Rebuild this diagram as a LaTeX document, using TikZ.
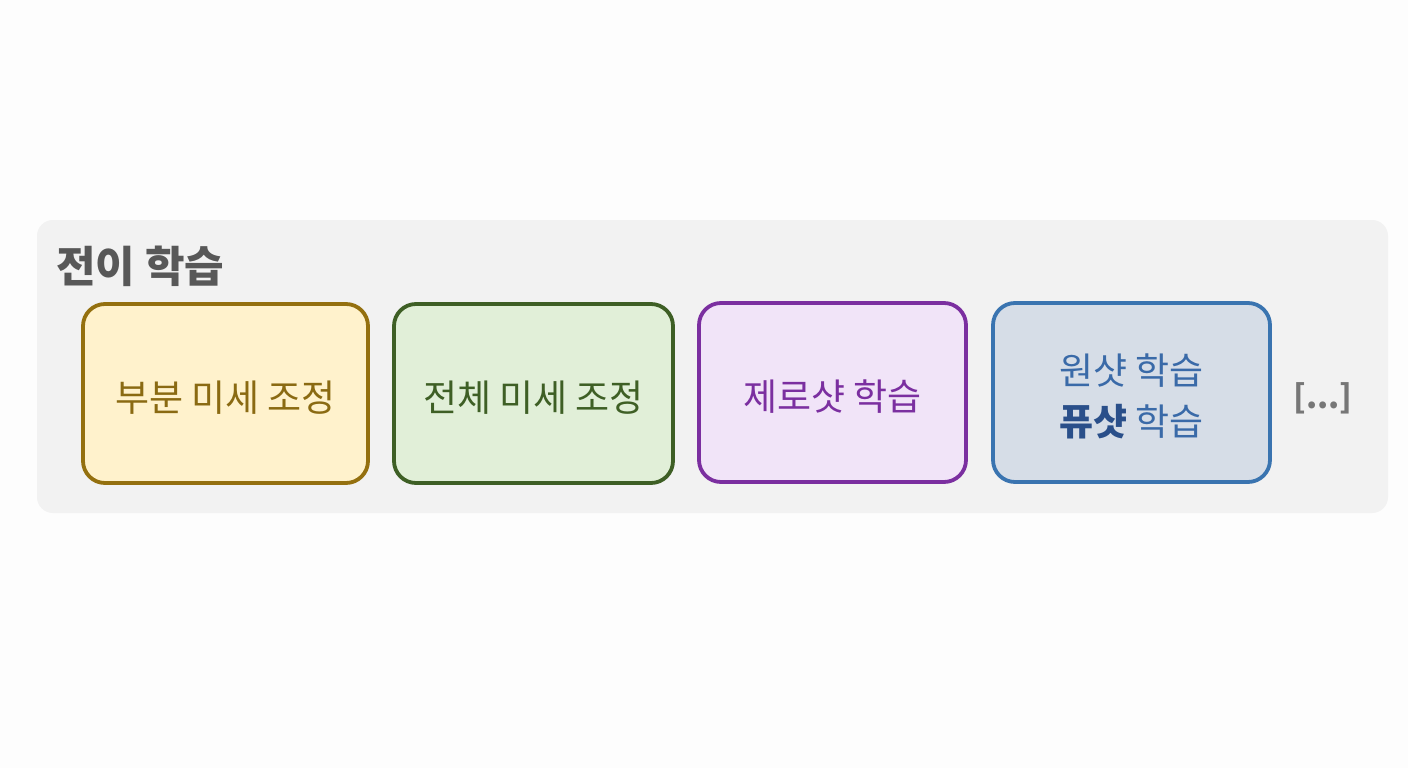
\documentclass[tikz,border=0pt]{standalone}
\usepackage{fontspec}
\setmainfont{Noto Sans CJK KR}
\newfontfamily\kr{Noto Sans CJK KR}
\definecolor{bgc}{HTML}{FDFDFD}
\definecolor{panelc}{HTML}{F2F2F2}
\definecolor{titlec}{HTML}{585858}
\definecolor{yfill}{HTML}{FFF2CC}
\definecolor{ydraw}{HTML}{94700F}
\definecolor{ytext}{HTML}{8A6A12}
\definecolor{gfill}{HTML}{E1EFD8}
\definecolor{gdraw}{HTML}{3E5F25}
\definecolor{pfill}{HTML}{F1E4F8}
\definecolor{pdraw}{HTML}{7B2FA0}
\definecolor{bfill}{HTML}{D6DDE7}
\definecolor{bdraw}{HTML}{3A74B0}
\definecolor{btext}{HTML}{3A6AA8}
\definecolor{bbold}{HTML}{2A4F8A}
\definecolor{dotc}{HTML}{777777}
\tikzset{
  card/.style={draw, line width=3.8pt, rounded corners=22pt, inner sep=0pt},
  cardtext/.style={inner sep=0pt, font=\kr\fontsize{37}{51}\selectfont, align=center},
}
\begin{document}
\begin{tikzpicture}[x=1pt,y=-1pt]
\fill[bgc] (0,0) rectangle (1408,768);
\useasboundingbox (0,0) rectangle (1408,768);
\fill[panelc, rounded corners=16pt] (37,220) rectangle (1388,513);
\node[anchor=base west, text=titlec, font=\kr\bfseries\fontsize{43}{50}\selectfont, inner sep=0pt] (title) at (56,282) {전이 학습};
\node[card, fill=yfill, draw=ydraw, minimum width=285pt, minimum height=179pt] (b1) at (225.5,393.5) {};
\node[card, fill=gfill, draw=gdraw, minimum width=279pt, minimum height=179pt] (b2) at (533.5,393.5) {};
\node[card, fill=pfill, draw=pdraw, minimum width=267pt, minimum height=179pt] (b3) at (832.5,392.5) {};
\node[card, fill=bfill, draw=bdraw, minimum width=277pt, minimum height=179pt] (b4) at (1131.5,392.5) {};
\node[cardtext, text=ytext] (t1) at ([yshift=-4pt]b1.center) {부분 미세 조정};
\node[cardtext, text=gdraw] (t2) at ([yshift=-4pt]b2.center) {전체 미세 조정};
\node[cardtext, text=pdraw] (t3) at ([yshift=-4pt]b3.center) {제로샷 학습};
\node[cardtext, text=btext] (t4) at ([yshift=-4pt]b4.center) {원샷 학습\\{\color{bbold}\bfseries 퓨샷} 학습};
\node[text=dotc, font=\kr\bfseries\fontsize{32}{36}\selectfont, inner sep=0pt] (more) at (1323,398) {[...]};
\end{tikzpicture}
\end{document}
